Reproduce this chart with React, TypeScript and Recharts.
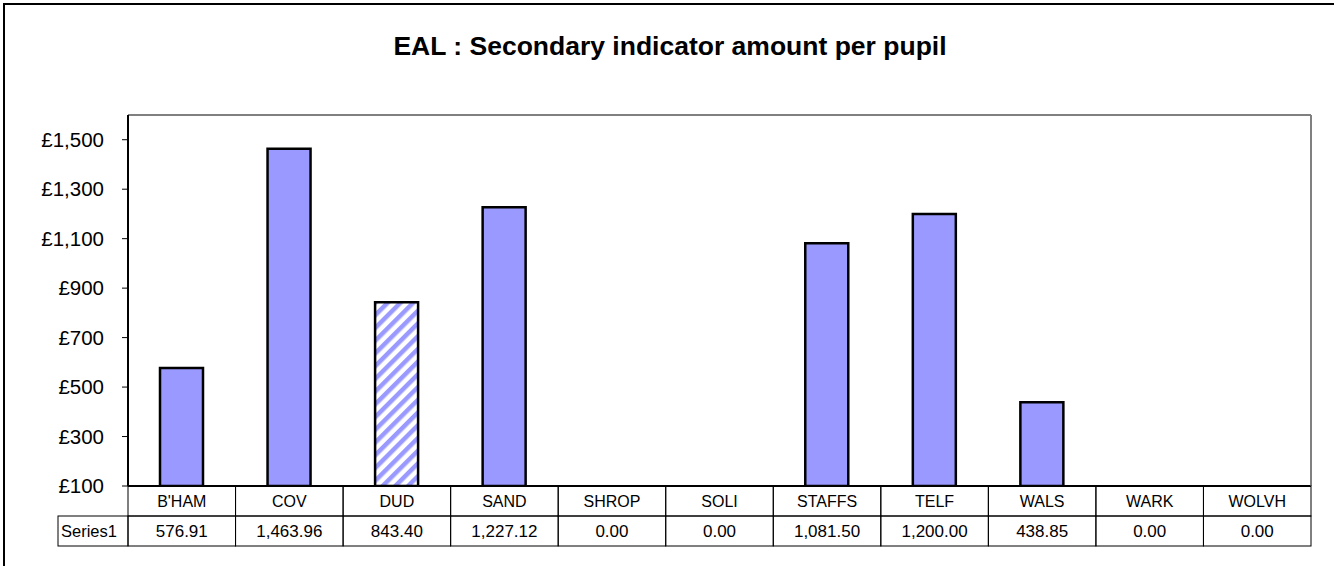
import { BarChart, Bar, XAxis, YAxis, CartesianGrid, ReferenceLine, Rectangle } from 'recharts';

// values
const categories = ['B\'HAM', 'COV', 'DUD', 'SAND', 'SHROP', 'SOLI', 'STAFFS', 'TELF', 'WALS', 'WARK', 'WOLVH'];
const amounts = [576.91, 1463.96, 843.4, 1227.12, 0, 0, 1081.5, 1200, 438.85, 0, 0];
const yTicks = [100, 300, 500, 700, 900, 1100, 1300, 1500];
const seriesName = 'Series1';
const highlighted = 'DUD';

const chartData = categories.map((name, i) => ({ name, value: amounts[i] }));

const FONT = '"Liberation Sans", Arial, sans-serif';
const W = 1334;
const H = 566;
const LEFT = 128;
const RIGHT = 23;
const TABLE_H = 60;
const ROW_H = 30;
const cellW = (W - LEFT - RIGHT) / categories.length;

const fmtMoney = (v: number) => '£' + v.toLocaleString('en-US');
const fmtValue = (v: number) =>
  v.toLocaleString('en-US', { minimumFractionDigits: 2, maximumFractionDigits: 2 });

const TableTick = ({ x, y, payload }: any) => {
  const i = payload.index;
  const left = x - cellW / 2;
  return (
    <g>
      <rect x={left} y={y} width={cellW} height={ROW_H} fill="none" stroke="#000" strokeWidth={1} />
      <rect x={left} y={y + ROW_H} width={cellW} height={ROW_H} fill="none" stroke="#000" strokeWidth={1} />
      <text x={x} y={y + 21} textAnchor="middle" fontSize={16} fontFamily={FONT} fill="#000">
        {payload.value}
      </text>
      <text x={x} y={y + ROW_H + 21} textAnchor="middle" fontSize={17} fontFamily={FONT} fill="#000">
        {fmtValue(amounts[i])}
      </text>
      {i === 0 && (
        <g>
          <rect x={58} y={y + ROW_H} width={left - 58} height={ROW_H} fill="none" stroke="#000" strokeWidth={1} />
          <text x={61} y={y + ROW_H + 21} fontSize={16.5} fontFamily={FONT} fill="#000">
            {seriesName}
          </text>
        </g>
      )}
    </g>
  );
};

const BarShape = (props: any) => {
  const { x, y, width, height, payload } = props;
  if (payload.value <= 100) return null;
  const fill = payload.name === highlighted ? 'url(#hatch)' : '#9999FF';
  return <Rectangle x={x} y={y} width={width} height={height} fill={fill} stroke="#000" strokeWidth={2.5} />;
};

export default function App() {
  return (
    <div style={{ position: 'fixed', left: 0, top: 0, width: W, height: H, overflow: 'hidden', background: '#fff' }}>
      <div
        style={{
          position: 'absolute',
          left: 3,
          top: 3,
          width: 1340,
          height: 600,
          border: '2px solid #000',
        }}
      />
      <div
        style={{
          position: 'absolute',
          left: 3,
          top: 31,
          width: W,
          textAlign: 'center',
          fontFamily: FONT,
          fontWeight: 'bold',
          fontSize: 26.5,
        }}
      >
        EAL : Secondary indicator amount per pupil
      </div>
      <div style={{ position: 'absolute', left: 0, top: 0 }}>
        <BarChart
          width={W}
          height={H}
          data={chartData}
          margin={{ top: 115, right: 0, bottom: 20, left: 0 }}
          barSize={43}
        >
          <defs>
            <pattern id="hatch" patternUnits="userSpaceOnUse" width={9} height={9} patternTransform="rotate(45)">
              <rect x={0} y={0} width={9} height={9} fill="#fff" />
              <rect x={0} y={0} width={4.5} height={9} fill="#9999FF" />
            </pattern>
          </defs>
          <CartesianGrid vertical={false} stroke="#000" strokeWidth={1} />
          <XAxis
            dataKey="name"
            height={TABLE_H}
            interval={0}
            tickSize={0}
            tickMargin={0}
            tickLine={false}
            axisLine={{ stroke: '#000', strokeWidth: 2 }}
            tick={<TableTick />}
          />
          <YAxis
            yAxisId="left"
            width={LEFT}
            domain={[100, 1600]}
            ticks={yTicks}
            allowDataOverflow
            tickFormatter={fmtMoney}
            tickSize={6}
            tickMargin={18}
            tickLine={{ stroke: '#000' }}
            axisLine={{ stroke: '#000', strokeWidth: 2 }}
            tick={{ fill: '#000', fontSize: 20.5, fontFamily: FONT }}
          />
          <YAxis
            yAxisId="right"
            orientation="right"
            width={RIGHT}
            domain={[100, 1600]}
            tick={false}
            tickLine={false}
            axisLine={{ stroke: '#808080', strokeWidth: 2 }}
          />
          <ReferenceLine yAxisId="left" y={1600} stroke="#808080" strokeWidth={2} />
          <Bar yAxisId="left" dataKey="value" shape={<BarShape />} isAnimationActive={false} />
        </BarChart>
      </div>
    </div>
  );
}
